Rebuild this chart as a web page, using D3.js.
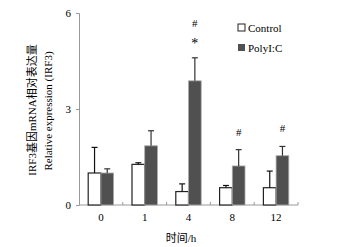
<!DOCTYPE html>
<html>
<head>
<meta charset="utf-8">
<script src="https://cdn.jsdelivr.net/npm/d3@7"></script>
<style>
body { margin: 0; background: #fff; }
text { font-family: "Liberation Serif", "Noto Sans CJK SC", serif; }
</style>
</head>
<body>
<script>
//width and height of svg
var w = 346;
var h = 247;

//data
var times = ["0", "1", "4", "8", "12"];
var controlMean = [1.0, 1.27, 0.42, 0.54, 0.54];
var controlErr = [0.8, 0.05, 0.24, 0.07, 0.52];
var polyMean = [1.0, 1.85, 3.88, 1.22, 1.54];
var polyErr = [0.13, 0.47, 0.72, 0.51, 0.29];
var marks = [[], [], ["#", "*"], ["#"], ["#"]];
var yTicks = [0, 3, 6];

var margin = { left: 79, right: 48, top: 13, bottom: 42 };

var svg = d3.select("body")
            .append("svg")
            .attr("width", w)
            .attr("height", h);

var xScale = d3.scaleBand()
               .domain(times)
               .range([margin.left, w - margin.right]);

var yScale = d3.scaleLinear()
               .domain([0, 6])
               .range([h - margin.bottom, margin.top]);

var barW = xScale.bandwidth() * 0.29;

//axes
var yAxis = svg.append("g")
               .attr("transform", "translate(" + margin.left + ",0)")
               .call(d3.axisLeft(yScale).tickValues(yTicks).tickFormat(d3.format("d"))
                       .tickSize(3).tickPadding(5));
yAxis.select(".domain").attr("stroke", "#999");
yAxis.selectAll(".tick line").attr("stroke", "#999");
yAxis.selectAll("text").attr("font-size", 11).attr("fill", "#000")
     .style("font-family", "Liberation Serif");

var xAxis = svg.append("g")
               .attr("transform", "translate(0," + yScale(0) + ")");
xAxis.append("line")
     .attr("x1", xScale.range()[0]).attr("x2", xScale.range()[1])
     .attr("stroke", "#999");
//ticks between categories
xAxis.selectAll(".sep")
     .data(times)
     .enter()
     .append("line")
     .attr("x1", function(d) { return xScale(d) + xScale.bandwidth(); })
     .attr("x2", function(d) { return xScale(d) + xScale.bandwidth(); })
     .attr("y1", 0).attr("y2", -3)
     .attr("stroke", "#999");
xAxis.selectAll(".lab")
     .data(times)
     .enter()
     .append("text")
     .attr("x", function(d) { return xScale(d) + xScale.bandwidth() / 2; })
     .attr("y", 16)
     .attr("text-anchor", "middle")
     .attr("font-size", 11)
     .text(function(d) { return d; });

//bars
var groups = svg.selectAll(".grp")
                .data(times)
                .enter()
                .append("g")
                .attr("transform", function(d) {
                    return "translate(" + (xScale(d) + xScale.bandwidth() / 2) + ",0)";
                });

groups.append("rect")
      .attr("x", -barW)
      .attr("y", function(d, i) { return yScale(controlMean[i]); })
      .attr("width", barW)
      .attr("height", function(d, i) { return yScale(0) - yScale(controlMean[i]); })
      .attr("fill", "#fff")
      .attr("stroke", "#222")
      .attr("stroke-width", 1.2);

groups.append("rect")
      .attr("x", 0)
      .attr("y", function(d, i) { return yScale(polyMean[i]); })
      .attr("width", barW)
      .attr("height", function(d, i) { return yScale(0) - yScale(polyMean[i]); })
      .attr("fill", "#505050")
      .attr("stroke", "#aaa")
      .attr("stroke-width", 0.8);

//error bars (upper only)
function errBar(cx, mean, err, col) {
    return function(sel) {
        sel.append("line")
           .attr("x1", cx).attr("x2", cx)
           .attr("y1", function(d, i) { return yScale(mean[i]); })
           .attr("y2", function(d, i) { return yScale(mean[i] + err[i]); })
           .attr("stroke", col).attr("stroke-width", 1.2);
        sel.append("line")
           .attr("x1", cx - 3).attr("x2", cx + 3)
           .attr("y1", function(d, i) { return yScale(mean[i] + err[i]); })
           .attr("y2", function(d, i) { return yScale(mean[i] + err[i]); })
           .attr("stroke", col).attr("stroke-width", 1.2);
    };
}
groups.call(errBar(-barW / 2, controlMean, controlErr, "#111"));
groups.call(errBar(barW / 2, polyMean, polyErr, "#333"));

//significance marks
groups.each(function(d, i) {
    var g = d3.select(this);
    var top = yScale(polyMean[i] + polyErr[i]);
    marks[i].slice().reverse().forEach(function(m, j) {
        g.append("text")
         .attr("x", barW / 2)
         .attr("y", top - 14 - j * 17 + (m == "*" ? 4 : 0))
         .attr("text-anchor", "middle")
         .attr("font-size", m == "*" ? 14 : 11)
         .attr("fill", "#000")
         .text(m);
    });
});

//legend
var legend = svg.append("g").attr("transform", "translate(238,24)");
legend.append("rect").attr("x", 0).attr("y", 0).attr("width", 7).attr("height", 7)
      .attr("fill", "#fff").attr("stroke", "#222");
legend.append("text").attr("x", 10).attr("y", 7.5).attr("font-size", 11).text("Control");
legend.append("rect").attr("x", 0).attr("y", 20).attr("width", 7).attr("height", 7)
      .attr("fill", "#505050");
legend.append("text").attr("x", 10).attr("y", 27.5).attr("font-size", 11).text("PolyI:C");

//axis titles
svg.append("text")
   .attr("transform", "translate(36,110) rotate(-90)")
   .attr("text-anchor", "middle")
   .attr("font-size", 11)
   .text("IRF3基因mRNA相对表达量");
svg.append("text")
   .attr("transform", "translate(52,111) rotate(-90)")
   .attr("text-anchor", "middle")
   .attr("font-size", 11)
   .text("Relative expression (IRF3)");
svg.append("text")
   .attr("x", 181)
   .attr("y", 242)
   .attr("text-anchor", "middle")
   .attr("font-size", 11)
   .text("时间/h");
</script>
</body>
</html>
